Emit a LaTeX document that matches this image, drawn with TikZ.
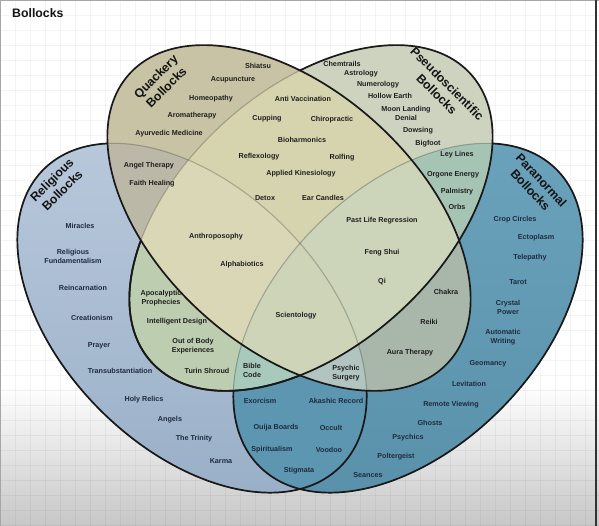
\documentclass[tikz,border=0pt]{standalone}
\usepackage{fontspec}
\setmainfont{Liberation Sans}

\definecolor{relTop}{HTML}{B8C8DB}
\definecolor{relBot}{HTML}{9AB0C8}
\definecolor{paraTop}{HTML}{6CA3BC}
\definecolor{paraBot}{HTML}{5890AA}
\definecolor{pseuC}{HTML}{CDD3BF}
\definecolor{quackC}{HTML}{C8C3A4}
\definecolor{RQ}{HTML}{BCB8A7}
\definecolor{RP}{HTML}{BDCDB0}
\definecolor{RN}{HTML}{5C96B0}
\definecolor{QP}{HTML}{D6D3AF}
\definecolor{QN}{HTML}{A9B7AA}
\definecolor{PN}{HTML}{A6C4B4}
\definecolor{RQP}{HTML}{D9D7B6}
\definecolor{RQN}{HTML}{B2C4C0}
\definecolor{RPN}{HTML}{A8CABC}
\definecolor{QPN}{HTML}{CCD4B9}
\definecolor{RQPN}{HTML}{CDD4B8}
\definecolor{navyC}{HTML}{1E2B3F}

\newcommand\quackE{(289,218) ellipse [x radius=215, y radius=129, rotate=-42]}
\newcommand\pseudoE{(311,218) ellipse [x radius=215, y radius=129, rotate=42]}
\newcommand\religE{(192,318) ellipse [x radius=210, y radius=130, rotate=-45]}
\newcommand\paranE{(408,318) ellipse [x radius=210, y radius=130, rotate=45]}

\begin{document}
\begin{tikzpicture}[x=1pt,y=-1pt,
  item/.style={font=\fontsize{7.2}{9}\selectfont\bfseries,text=black!88,align=center,inner sep=0pt},
  itemb/.style={item,text=navyC},
  setname/.style={font=\fontsize{12.3}{14.8}\selectfont\bfseries,text=black!92,align=center,inner sep=0pt},
  dark/.style={draw=black!90,line width=1.7pt},
  faint/.style={draw=black,draw opacity=0.22,line width=1.1pt},
  gridline/.style={draw=black,draw opacity=0.045,line width=0.5pt}]
  \useasboundingbox (0,0) rectangle (599,526);
  \fill[white] (0,0) rectangle (599,526);
  \shade[top color=white,bottom color=black!22] (0,385) rectangle (599,526);
  \foreach \gx in {0,15,...,599} \draw[gridline] (\gx,0) -- (\gx,526);
  \foreach \gy in {0,15,...,526} \draw[gridline] (0,\gy) -- (599,\gy);
  \draw[black!35,line width=1pt] (0,0.5) -- (599,0.5);
  \draw[black!35,line width=1pt] (0.5,0) -- (0.5,526);
  \draw[black!80,line width=2pt] (596,0) -- (596,526);

  % single sets
  \shade[top color=relTop,bottom color=relBot] \religE;
  \shade[top color=paraTop,bottom color=paraBot] \paranE;
  \fill[pseuC] \pseudoE;
  \fill[quackC] \quackE;
  % pairs
  \begin{scope}\clip\religE; \fill[RQ]\quackE; \end{scope}
  \begin{scope}\clip\religE; \fill[RP]\pseudoE; \end{scope}
  \begin{scope}\clip\religE; \fill[RN]\paranE; \end{scope}
  \begin{scope}\clip\quackE; \fill[QP]\pseudoE; \end{scope}
  \begin{scope}\clip\quackE; \fill[QN]\paranE; \end{scope}
  \begin{scope}\clip\pseudoE; \fill[PN]\paranE; \end{scope}
  % triples
  \begin{scope}\clip\religE; \clip\quackE; \fill[RQP]\pseudoE; \end{scope}
  \begin{scope}\clip\religE; \clip\quackE; \fill[RQN]\paranE; \end{scope}
  \begin{scope}\clip\religE; \clip\pseudoE; \fill[RPN]\paranE; \end{scope}
  \begin{scope}\clip\quackE; \clip\pseudoE; \fill[QPN]\paranE; \end{scope}
  % all four
  \begin{scope}\clip\religE; \clip\quackE; \clip\pseudoE; \fill[RQPN]\paranE; \end{scope}

  % outlines
  \path[faint] \religE;
  \path[faint] \paranE;
  \path[faint] \pseudoE;
  \begin{scope}[even odd rule]
    \clip (0,0) rectangle (599,526) \quackE;
    \clip (0,0) rectangle (599,526) \pseudoE;
    \path[dark] \religE;
    \path[dark] \paranE;
  \end{scope}
  \begin{scope}[even odd rule]
    \clip (0,0) rectangle (599,526) \quackE;
    \path[dark] \pseudoE;
  \end{scope}
  \begin{scope}
    \clip (0,241) rectangle (599,526);
    \path[dark] \pseudoE;
  \end{scope}
  \path[dark] \quackE;

  \node[setname,anchor=west] (title) at (12,13) {Bollocks};
  \node[setname,rotate=45] (hq) at (161,82) {Quackery\\Bollocks};
  \node[setname,rotate=45] (hr) at (57,185) {Religious\\Bollocks};
  \node[setname,rotate=-45] (hp) at (442,89) {Pseudoscientific\\Bollocks};
  \node[setname,rotate=-47] (hn) at (536,185) {Paranormal\\Bollocks};

  % quackery only
  \node[item] (q1) at (258,66) {Shiatsu};
  \node[item] (q2) at (233,80) {Acupuncture};
  \node[item] (q3) at (211,99) {Homeopathy};
  \node[item] (q4) at (192,116) {Aromatherapy};
  \node[item] (q5) at (169,134) {Ayurvedic Medicine};
  % quackery + pseudo
  \node[item] (qp1) at (303,99) {Anti Vaccination};
  \node[item] (qp2) at (267,119) {Cupping};
  \node[item] (qp3) at (332,120) {Chiropractic};
  \node[item] (qp4) at (302,140) {Bioharmonics};
  \node[item] (qp5) at (259,157) {Reflexology};
  \node[item] (qp6) at (342,158) {Rolfing};
  \node[item] (qp7) at (301,174) {Applied Kinesiology};
  \node[item] (qp8) at (265,198) {Detox};
  \node[item] (qp9) at (323,198) {Ear Candles};
  % pseudo only
  \node[item] (p1) at (342,64) {Chemtrails};
  \node[item] (p2) at (361,74) {Astrology};
  \node[item] (p3) at (378,85) {Numerology};
  \node[item] (p4) at (390,96) {Hollow Earth};
  \node[item] (p5) at (406,113) {Moon Landing\\Denial};
  \node[item] (p6) at (418,131) {Dowsing};
  \node[item] (p7) at (428,144) {Bigfoot};
  % pseudo + paranormal
  \node[item] (pn1) at (457,155) {Ley Lines};
  \node[item] (pn2) at (453,175) {Orgone Energy};
  \node[item] (pn3) at (457,192) {Palmistry};
  \node[item] (pn4) at (457,207) {Orbs};
  % religious + quackery
  \node[item] (rq1) at (149,166) {Angel Therapy};
  \node[item] (rq2) at (152,184) {Faith Healing};
  % three and four sets
  \node[item] (rqp1) at (216,237) {Anthroposophy};
  \node[item] (rqp2) at (242,265) {Alphabiotics};
  \node[item] (qpn1) at (382,221) {Past Life Regression};
  \node[item] (qpn2) at (382,253) {Feng Shui};
  \node[item] (qpn3) at (382,282) {Qi};
  \node[item] (all) at (296,316) {Scientology};
  \node[item] (rpn1) at (252,370.5) {Bible\\Code};
  \node[item] (rqn1) at (346,373.5) {Psychic\\Surgery};
  % religious + pseudo
  \node[item] (rp1) at (161,298) {Apocalyptic\\Prophecies};
  \node[item] (rp2) at (177,322) {Intelligent Design};
  \node[item] (rp3) at (193,346.5) {Out of Body\\Experiences};
  \node[item] (rp4) at (207,371) {Turin Shroud};
  % quackery + paranormal
  \node[item] (qn1) at (446,292) {Chakra};
  \node[item] (qn2) at (429,322) {Reiki};
  \node[item] (qn3) at (410,353) {Aura Therapy};
  % religious only
  \node[itemb] (r1) at (80,226) {Miracles};
  \node[itemb] (r2) at (73,256.5) {Religious\\Fundamentalism};
  \node[itemb] (r3) at (83,288) {Reincarnation};
  \node[itemb] (r4) at (92,318) {Creationism};
  \node[itemb] (r5) at (99,346) {Prayer};
  \node[itemb] (r6) at (120,371) {Transubstantiation};
  \node[itemb] (r7) at (144,400) {Holy Relics};
  \node[itemb] (r8) at (170,420) {Angels};
  \node[itemb] (r9) at (194,439) {The Trinity};
  \node[itemb] (r10) at (221,461) {Karma};
  % paranormal only
  \node[itemb] (n1) at (515,220) {Crop Circles};
  \node[itemb] (n2) at (536,238) {Ectoplasm};
  \node[itemb] (n3) at (530,258) {Telepathy};
  \node[itemb] (n4) at (518,282) {Tarot};
  \node[itemb] (n5) at (508,307.5) {Crystal\\Power};
  \node[itemb] (n6) at (503,337.5) {Automatic\\Writing};
  \node[itemb] (n7) at (488,364) {Geomancy};
  \node[itemb] (n8) at (469,384) {Levitation};
  \node[itemb] (n9) at (451,405) {Remote Viewing};
  \node[itemb] (n10) at (430,423) {Ghosts};
  \node[itemb] (n11) at (408,438) {Psychics};
  \node[itemb] (n12) at (396,457) {Poltergeist};
  \node[itemb] (n13) at (368,475) {Seances};
  % religious + paranormal
  \node[itemb] (rn1) at (260,401) {Exorcism};
  \node[itemb] (rn2) at (336,401) {Akashic Record};
  \node[itemb] (rn3) at (276,428) {Ouija Boards};
  \node[itemb] (rn4) at (331,428) {Occult};
  \node[itemb] (rn5) at (272,450) {Spiritualism};
  \node[itemb] (rn6) at (329,450) {Voodoo};
  \node[itemb] (rn7) at (299,471) {Stigmata};
\end{tikzpicture}
\end{document}
